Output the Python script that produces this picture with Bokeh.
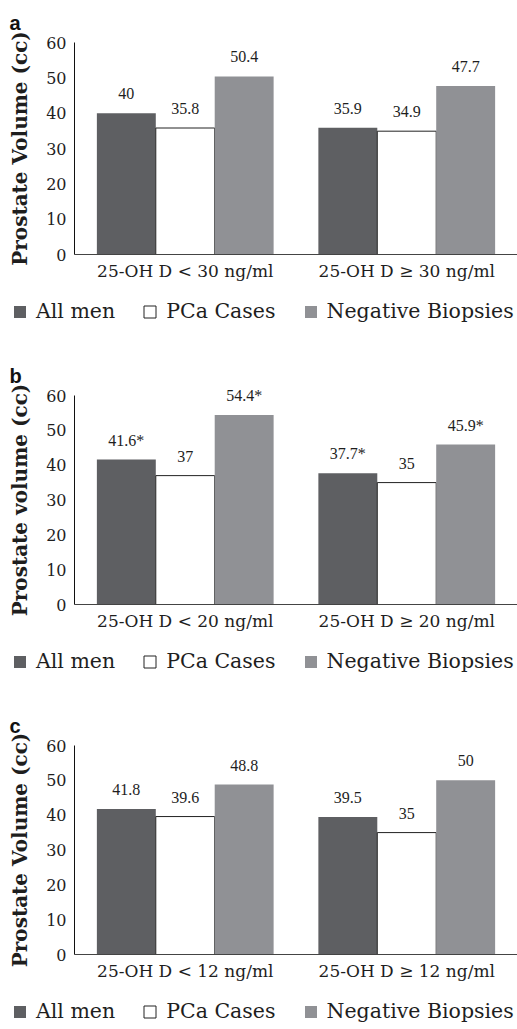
from bokeh.plotting import figure
from bokeh.layouts import column
from bokeh.models import (ColumnDataSource, Range1d, FixedTicker,
                          LabelSet, Label, Legend, LegendItem)
from bokeh.embed import file_html
from bokeh.resources import INLINE

series = ["All men", "PCa Cases", "Negative Biopsies"]
y_ticks = [0, 10, 20, 30, 40, 50, 60]

cats_a = ["25-OH D < 30 ng/ml", "25-OH D \u2265 30 ng/ml"]
all_a = [40, 35.9]
pca_a = [35.8, 34.9]
neg_a = [50.4, 47.7]
lab_all_a = ["40", "35.9"]
lab_pca_a = ["35.8", "34.9"]
lab_neg_a = ["50.4", "47.7"]

cats_b = ["25-OH D < 20 ng/ml", "25-OH D \u2265 20 ng/ml"]
all_b = [41.6, 37.7]
pca_b = [37, 35]
neg_b = [54.4, 45.9]
lab_all_b = ["41.6*", "37.7*"]
lab_pca_b = ["37", "35"]
lab_neg_b = ["54.4*", "45.9*"]

cats_c = ["25-OH D < 12 ng/ml", "25-OH D \u2265 12 ng/ml"]
all_c = [41.8, 39.5]
pca_c = [39.6, 35]
neg_c = [48.8, 50]
lab_all_c = ["41.8", "39.5"]
lab_pca_c = ["39.6", "35"]
lab_neg_c = ["48.8", "50"]

SERIF = "DejaVu Serif"
SANS = "Liberation Sans"
C_ALL = "#5e5f62"
C_NEG = "#909195"
TXT = "#1e1e1e"
BW = 0.266
W = 517
AXIS_X = 74


def make_panel(letter, ytitle, cats, v_all, v_pca, v_neg, l_all, l_pca, l_neg,
               height, top60, zero):
    n = len(cats)
    k = (zero - top60) / 60.0                 # px per unit in y
    cw = (W - AXIS_X) / n                     # px per category
    y0 = -(height - zero) / k
    y1 = 60 + top60 / k
    x0 = -AXIS_X / cw
    centers = [i + 0.5 for i in range(n)]
    src = ColumnDataSource(dict(xc=centers, xa=[c - BW for c in centers],
                                xn=[c + BW for c in centers],
                                all=v_all, pca=v_pca, neg=v_neg,
                                lall=l_all, lpca=l_pca, lneg=l_neg))
    p = figure(width=W, height=height, x_range=Range1d(x0, n),
               y_range=Range1d(y0, y1), output_backend="svg",
               toolbar_location=None, min_border=0)
    p.outline_line_color = None
    p.xgrid.grid_line_color = None
    p.ygrid.grid_line_color = None

    r1 = p.vbar(x="xa", top="all", width=BW, source=src,
                fill_color=C_ALL, line_color=None)
    r2 = p.vbar(x="xc", top="pca", width=BW, source=src,
                fill_color="white", line_color="#222222", line_width=1)
    r3 = p.vbar(x="xn", top="neg", width=BW, source=src,
                fill_color=C_NEG, line_color=None)

    for fx, fy, ft in [("xa", "all", "lall"), ("xc", "pca", "lpca"), ("xn", "neg", "lneg")]:
        p.add_layout(LabelSet(x=fx, y=fy, text=ft, source=src, y_offset=14,
                              text_align="center", text_baseline="alphabetic",
                              text_font=SERIF, text_font_size="16px",
                              text_color=TXT))

    ya = p.yaxis[0]
    ya.fixed_location = 0
    ya.ticker = FixedTicker(ticks=y_ticks)
    ya.bounds = (0, 60)
    ya.major_tick_line_color = None
    ya.minor_tick_line_color = None
    ya.major_tick_out = 0
    ya.major_tick_in = 0
    ya.major_label_standoff = 8
    ya.major_label_text_font = SERIF
    ya.major_label_text_font_size = "16px"
    ya.major_label_text_color = TXT
    ya.axis_line_color = "#111111"
    ya.axis_label = ytitle
    ya.axis_label_text_font = SERIF
    ya.axis_label_text_font_style = "bold"
    ya.axis_label_text_font_size = "20px"
    ya.axis_label_text_color = TXT
    ya.axis_label_standoff = 11

    xa = p.xaxis[0]
    xa.fixed_location = 0
    xa.ticker = FixedTicker(ticks=centers)
    xa.major_label_overrides = {c: t for c, t in zip(centers, cats)}
    xa.bounds = (0, n)
    xa.major_tick_line_color = None
    xa.minor_tick_line_color = None
    xa.major_tick_out = 0
    xa.major_tick_in = 0
    xa.major_label_standoff = 6
    xa.major_label_text_font = SERIF
    xa.major_label_text_font_size = "17px"
    xa.major_label_text_color = TXT
    xa.axis_line_color = "#444444"

    legend = Legend(items=[LegendItem(label=series[0], renderers=[r1]),
                           LegendItem(label=series[1], renderers=[r2]),
                           LegendItem(label=series[2], renderers=[r3])],
                    location=(12, height - zero - 69), orientation="horizontal",
                    padding=0, margin=0, spacing=27, glyph_width=15,
                    glyph_height=15, label_standoff=9,
                    label_text_font=SERIF, label_text_font_size="20.5px",
                    label_text_color=TXT, border_line_color=None,
                    background_fill_alpha=0)
    p.add_layout(legend)

    p.add_layout(Label(x=9, y=height - (top60 - 20), x_units="screen",
                       y_units="screen", text=letter, text_font=SANS,
                       text_font_style="bold", text_font_size="20px",
                       text_color="#111111", text_baseline="alphabetic"))
    return p


pa = make_panel("a", "Prostate Volume (cc)", cats_a, all_a, pca_a, neg_a,
                lab_all_a, lab_pca_a, lab_neg_a, 340, 42, 254)
pb = make_panel("b", "Prostate volume (cc)", cats_b, all_b, pca_b, neg_b,
                lab_all_b, lab_pca_b, lab_neg_b, 350, 55, 264)
pc = make_panel("c", "Prostate Volume (cc)", cats_c, all_c, pca_c, neg_c,
                lab_all_c, lab_pca_c, lab_neg_c, 339, 55, 264)

layout = column(pa, pb, pc, spacing=0)
open("out.html", "w").write(file_html(layout, INLINE))
